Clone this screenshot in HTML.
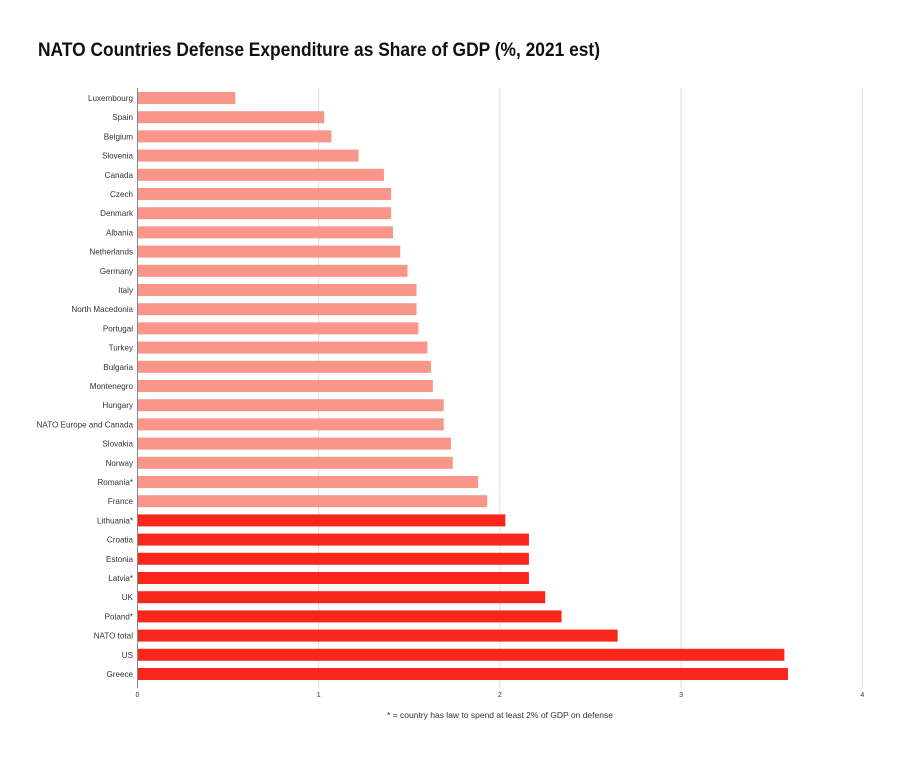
<!DOCTYPE html>
<html><head><meta charset="utf-8"><style>
html,body{margin:0;padding:0;background:#fff;width:900px;height:758px;overflow:hidden}
svg text{font-family:"Liberation Sans",sans-serif}
</style></head><body>
<svg id="chart" width="900" height="758" xmlns="http://www.w3.org/2000/svg">
<text x="38" y="56" font-size="19" font-weight="bold" fill="#111" textLength="562" lengthAdjust="spacingAndGlyphs">NATO Countries Defense Expenditure as Share of GDP (%, 2021 est)</text>
<g id="grid"></g><g id="bars"></g><g id="labels"></g><g id="ticks"></g>
<line x1="137.5" y1="88" x2="137.5" y2="688" stroke="#888" stroke-width="1"/>
<text x="500" y="718" font-size="8.5" fill="#333" text-anchor="middle">* = country has law to spend at least 2% of GDP on defense</text>
</svg>
<script>
const categories=["Luxembourg","Spain","Belgium","Slovenia","Canada","Czech","Denmark","Albania","Netherlands","Germany","Italy","North Macedonia","Portugal","Turkey","Bulgaria","Montenegro","Hungary","NATO Europe and Canada","Slovakia","Norway","Romania*","France","Lithuania*","Croatia","Estonia","Latvia*","UK","Poland*","NATO total","US","Greece"];
const values=[0.54,1.03,1.07,1.22,1.36,1.40,1.40,1.41,1.45,1.49,1.54,1.54,1.55,1.60,1.62,1.63,1.69,1.69,1.73,1.74,1.88,1.93,2.03,2.16,2.16,2.16,2.25,2.34,2.65,3.57,3.59];
const tickLabels=[0,1,2,3,4];
const NS="http://www.w3.org/2000/svg";
const x0=137.5,pxPerUnit=181.2,y0=98,step=19.2,bh=12;
const xs=v=>x0+v*pxPerUnit, ys=i=>y0+i*step;
function mk(t,a,p){const e=document.createElementNS(NS,t);for(const k in a)e.setAttribute(k,a[k]);document.getElementById(p).appendChild(e);return e;}
tickLabels.forEach(t=>{
  if(t>0){const g=mk("line",{x1:xs(t),x2:xs(t),y1:88,y2:688,stroke:"#ddd","stroke-width":1},"grid");
  
  }
  const tl=mk("text",{x:xs(t),y:697,"font-size":7,fill:"#333","text-anchor":"middle"},"ticks");
  tl.textContent=t;
  
  
});
categories.forEach((c,i)=>{
  const b=mk("rect",{x:x0,y:ys(i)-bh/2,width:xs(values[i])-x0,height:bh,fill:values[i]>=2?"#f8261b":"#f99589"},"bars");
  
  
  const l=mk("text",{x:133,y:ys(i)+3,"font-size":8.1,fill:"#333","text-anchor":"end"},"labels");
  l.textContent=c;
  
  
});
</script>
</body></html>
